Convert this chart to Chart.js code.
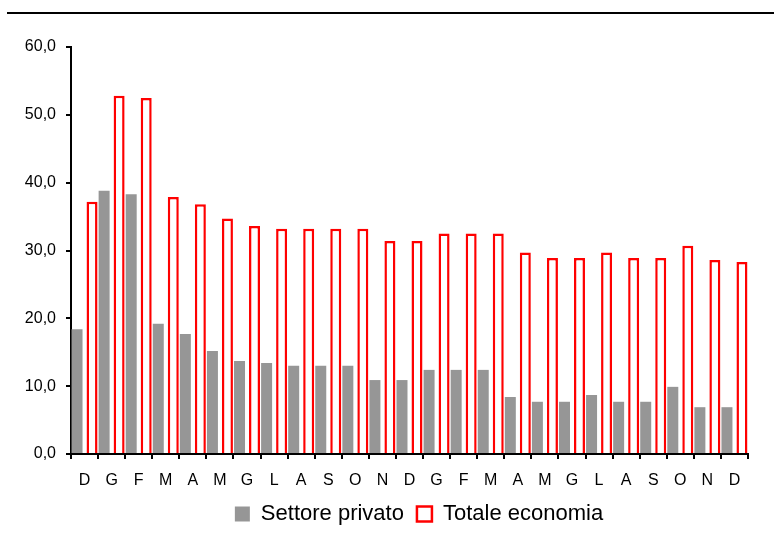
<!DOCTYPE html>
<html>
<head>
<meta charset="utf-8">
<script src="https://cdn.jsdelivr.net/npm/chart.js@4.4.1/dist/chart.umd.min.js"></script>
<style>
  html, body { margin: 0; padding: 0; background: #fff; }
  #wrap { width: 774px; height: 535px; position: relative; }
</style>
</head>
<body>
<div id="wrap"><canvas id="chart"></canvas></div>
<script>
const mesi = ['D', 'G', 'F', 'M', 'A', 'M', 'G', 'L', 'A', 'S', 'O', 'N', 'D', 'G', 'F', 'M', 'A', 'M', 'G', 'L', 'A', 'S', 'O', 'N', 'D'];
const settorePrivato = [18.4, 38.8, 38.3, 19.2, 17.7, 15.2, 13.7, 13.4, 13.0, 13.0, 13.0, 10.9, 10.9, 12.4, 12.4, 12.4, 8.4, 7.7, 7.7, 8.7, 7.7, 7.7, 9.9, 6.9, 6.9];
const totaleEconomia = [37.2, 52.8, 52.5, 37.9, 36.8, 34.7, 33.6, 33.2, 33.2, 33.2, 33.2, 31.4, 31.4, 32.5, 32.5, 32.5, 29.7, 28.9, 28.9, 29.7, 28.9, 28.9, 30.7, 28.6, 28.3];
const yTicks = [0, 10, 20, 30, 40, 50, 60];

const FONT = "'Liberation Sans', Arial, sans-serif";
const LEGEND_SHIFT = 45;

// linea nera in alto + spostamento legenda
const extras = {
    id: 'extras',
    afterLayout(chart) {
        chart.legend.left += LEGEND_SHIFT;
        chart.legend.right += LEGEND_SHIFT;
    },
    afterDraw(chart) {
        const ctx = chart.ctx;
        ctx.save();
        ctx.strokeStyle = '#000';
        ctx.lineWidth = 2;
        ctx.beginPath();
        ctx.moveTo(7, 13);
        ctx.lineTo(774, 13);
        ctx.stroke();
        ctx.restore();
    }
};

new Chart(document.getElementById('chart'), {
    type: 'bar',
    data: {
        labels: mesi,
        datasets: [
            { label: 'Settore privato', data: settorePrivato, backgroundColor: '#969696', borderWidth: 0,
              categoryPercentage: 1.108, barPercentage: 0.733 },
            { label: 'Totale economia', data: totaleEconomia, backgroundColor: '#ffffff', borderColor: '#ff0000', borderWidth: 2.5,
              categoryPercentage: 1.108, barPercentage: 0.733 }
        ]
    },
    options: {
        responsive: true,
        maintainAspectRatio: false,
        animation: false,
        layout: { padding: { top: 47, right: 26, bottom: 0, left: 0 } },
        plugins: {
            tooltip: { enabled: false },
            legend: {
                position: 'bottom',
                labels: { boxWidth: 15, boxHeight: 15, padding: 13, color: '#000', font: { family: FONT, size: 22 } }
            }
        },
        scales: {
            x: {
                afterFit(s) { s.height = 36; },
                grid: { drawOnChartArea: false, tickLength: 5, color: '#000', lineWidth: 2 },
                border: { color: '#000', width: 2 },
                ticks: { color: '#000', padding: 12, maxRotation: 0, autoSkip: false, font: { family: FONT, size: 16 } }
            },
            y: {
                min: 0, max: 60,
                afterFit(s) { s.width = 71; },
                afterBuildTicks(s) { s.ticks = yTicks.map(v => ({ value: v })); },
                grid: { drawOnChartArea: false, tickLength: 5, color: '#000', lineWidth: 2 },
                border: { color: '#000', width: 2 },
                ticks: { color: '#000', padding: 10, font: { family: FONT, size: 16 },
                         callback: v => v.toFixed(1).replace('.', ',') }
            }
        }
    },
    plugins: [extras]
});
</script>
</body>
</html>
